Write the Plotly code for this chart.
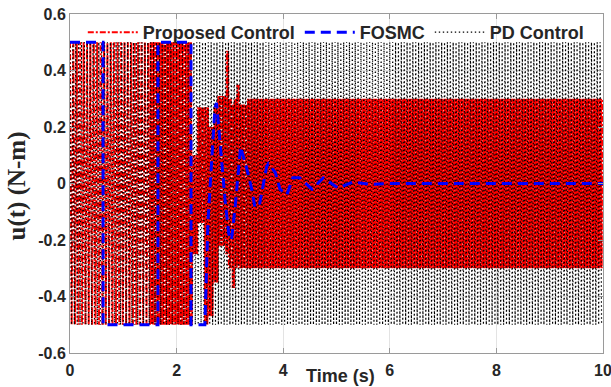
import plotly.graph_objects as go

# ---------------- data ----------------
# Chattering segments: [start, end) time, upper level, lower level, switching interval
prop_t0 = [0.00, 1.50, 2.30, 2.40, 2.52, 2.60, 2.70, 2.78, 2.93, 2.98, 3.04, 3.09, 3.14, 3.18, 3.34]
prop_t1 = [1.50, 2.30, 2.40, 2.52, 2.60, 2.70, 2.78, 2.93, 2.98, 3.04, 3.09, 3.14, 3.18, 3.34, 10.0]
prop_hi = [0.50, 0.50, 0.10, 0.27, 0.27, 0.20, 0.27, 0.31, 0.47, 0.30, 0.28, 0.30, 0.35, 0.28, 0.30]
prop_lo = [-0.50, -0.50, -0.25, -0.14, -0.50, -0.47, -0.35, -0.22, -0.25, -0.30, -0.37, -0.30, -0.29, -0.30, -0.30]
prop_dt = [0.032, 0.015, 0.012, 0.012, 0.012, 0.012, 0.012, 0.012, 0.012, 0.012, 0.012, 0.012, 0.012, 0.012, 0.012]

pd_t0 = [0.0]
pd_t1 = [10.0]
pd_hi = [0.5]
pd_lo = [-0.5]
pd_dt = [0.027]

fosmc_t = [0.0, 0.62, 0.62, 1.65, 1.65, 2.27, 2.27, 2.53, 2.59, 2.66, 2.72, 2.75, 2.81, 2.87, 2.91,
           2.98, 3.03, 3.10, 3.20, 3.32, 3.41, 3.47, 3.56, 3.69, 3.72, 3.85, 3.94, 4.07, 4.18,
           4.31, 4.54, 4.75, 5.03, 5.31, 5.66, 6.0, 7.0, 8.0, 9.0, 10.0]
fosmc_u = [0.5, 0.5, -0.5, -0.5, 0.5, 0.5, -0.5, -0.5, -0.13, 0.11, 0.27, 0.285, 0.15, 0.01, -0.06,
           -0.18, -0.20, -0.08, 0.13, 0.05, -0.02, -0.085, -0.07, 0.06, 0.07, 0.04, -0.02, -0.04, 0.02,
           0.02, -0.02, 0.02, -0.016, 0.005, -0.003, 0.0, 0.0, 0.0, 0.0, 0.0]

x_ticks = [0, 2, 4, 6, 8, 10]
y_ticks = [-0.6, -0.4, -0.2, 0, 0.2, 0.4, 0.6]
y_tick_text = ["-0.6", "-0.4", "-0.2", "0", "0.2", "0.4", "0.6"]


def chatter(t0s, t1s, his, los, dts):
    xs, ys = [], []
    k = 0
    for a, b, hi, lo, st in zip(t0s, t1s, his, los, dts):
        n = max(1, int(round((b - a) / st)))
        for i in range(n):
            xs.append(a + i * (b - a) / n)
            ys.append(hi if k % 2 == 0 else lo)
            k += 1
    return xs, ys


prop_x, prop_y = chatter(prop_t0, prop_t1, prop_hi, prop_lo, prop_dt)
pd_x, pd_y = chatter(pd_t0, pd_t1, pd_hi, pd_lo, pd_dt)

TXT = "#262626"
fig = go.Figure()
fig.add_trace(go.Scatter(x=prop_x, y=prop_y, mode="lines", name="Proposed Control",
                         legendrank=1,
                         line=dict(color="#ff0000", width=2, dash="6px,2px,2px,2px")))
fig.add_trace(go.Scatter(x=pd_x, y=pd_y, mode="lines", name="PD Control",
                         legendrank=3,
                         line=dict(color="#000000", width=1.2, dash="1.4px,2.6px")))
fig.add_trace(go.Scatter(x=fosmc_t, y=fosmc_u, mode="lines", name="FOSMC",
                         legendrank=2,
                         line=dict(color="#0000ff", width=3, dash="10px,6px")))

fig.update_layout(
    width=611, height=387,
    margin=dict(l=70, r=8, t=14, b=34, autoexpand=False),
    paper_bgcolor="white", plot_bgcolor="white",
    font=dict(family="Liberation Sans, Arial", size=16, color=TXT),
    legend=dict(orientation="h", x=0.024, y=1.0, xanchor="left", yanchor="top",
                bgcolor="rgba(0,0,0,0)", borderwidth=0,
                font=dict(family="Liberation Sans, Arial", size=18, color=TXT, weight="bold"),
                itemwidth=50, tracegroupgap=0),
    showlegend=True,
)
fig.update_xaxes(range=[0, 10], tickvals=x_ticks, ticktext=[str(v) for v in x_ticks],
                 automargin=False, ticklabeloverflow="allow", ticklabelstandoff=3,
                 showgrid=True, gridcolor="#e3e3e3", gridwidth=1,
                 showline=True, linecolor="#9a9a9a", linewidth=1, mirror="ticks",
                 ticks="inside", ticklen=5, tickcolor="#9a9a9a",
                 tickfont=dict(size=16, color=TXT, weight="bold"), zeroline=False)
fig.update_yaxes(range=[-0.6, 0.6], tickvals=y_ticks, ticktext=y_tick_text,
                 automargin=False, ticklabeloverflow="allow",
                 showgrid=True, gridcolor="#e3e3e3", gridwidth=1,
                 showline=True, linecolor="#9a9a9a", linewidth=1, mirror="ticks",
                 ticks="inside", ticklen=5, tickcolor="#9a9a9a",
                 tickfont=dict(size=16, color=TXT, weight="bold"), zeroline=False)
fig.add_annotation(text="u(t) (N-m)", xref="paper", yref="paper", x=0, y=0.5,
                   xanchor="center", yanchor="middle", xshift=-54, yshift=-3, textangle=-90,
                   showarrow=False,
                   font=dict(family="Liberation Serif, Times New Roman", size=25,
                             color=TXT, weight="bold"))
fig.add_annotation(text="Time (s)", xref="paper", yref="paper", x=0.507, y=0,
                   xanchor="center", yanchor="middle", yshift=-23, showarrow=False,
                   font=dict(family="Liberation Sans, Arial", size=18, color=TXT, weight="bold"))

# remove the default 8px page margin so the figure fills the window exactly
fig.write_html("out.html", config={"displayModeBar": False},
               post_script="document.body.style.margin='0';document.body.style.overflow='hidden';")
